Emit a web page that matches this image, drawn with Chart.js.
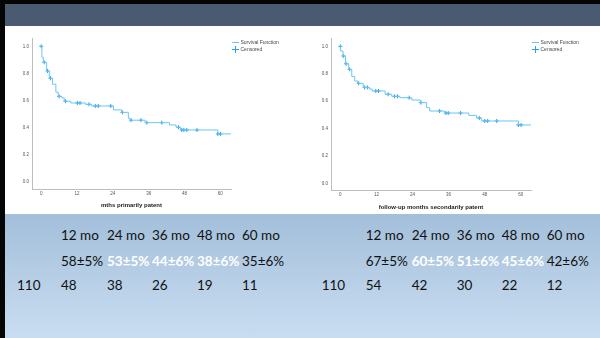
<!DOCTYPE html>
<html lang="en">
<head>
<meta charset="UTF-8">
<title>Patency</title>
<script src="https://cdn.jsdelivr.net/npm/chart.js@4"></script>
<style>
  html, body { margin: 0; padding: 0; }
  body { width: 600px; height: 338px; overflow: hidden; position: relative; background: #fff; font-family: Lato, "Open Sans", sans-serif; }
  .frame-top { position: absolute; left: 0; top: 0; width: 600px; height: 4px; background: #050505; }
  .frame-left { position: absolute; left: 0; top: 0; width: 5px; height: 338px; background: #050505; }
  .header { position: absolute; left: 5px; top: 4px; width: 595px; height: 22px; background: #4a5a71; }
  .bottom { position: absolute; left: 5px; top: 214px; width: 595px; height: 124px; background: linear-gradient(#a3bfda, #c9ddf1); }
  canvas { position: absolute; }
  .cell { position: absolute; font-size: 13.5px; line-height: 13.5px; color: #111; white-space: nowrap; }
  .cell.hi { color: #fff; font-weight: bold; }
</style>
</head>
<body>
<div class="frame-top"></div>
<div class="frame-left"></div>
<div class="header"></div>
<div class="bottom"></div>
<canvas id="primary" width="263" height="185" style="left:20px;top:30px;width:263px;height:185px"></canvas>
<canvas id="secondary" width="273" height="185" style="left:310px;top:30px;width:273px;height:185px"></canvas>
<div id="tables"></div>
<script>
const xTicks = [0, 12, 24, 36, 48, 60]
const yTicks = [0, 0.2, 0.4, 0.6, 0.8, 1.0]

// primary patency (Kaplan-Meier steps + censored marks)
const primTime = [0, 0.2, 0.7, 1.8, 2.7, 3.8, 4.9, 5.7, 6.9, 7.7, 9.9, 14.8, 16.9, 24.2, 27.0, 29.2, 29.8, 34.8, 43.0, 45.2, 46.7, 59.2, 63.6]
const primSurv = [1.0, 0.919, 0.882, 0.818, 0.764, 0.72, 0.661, 0.631, 0.62, 0.595, 0.582, 0.572, 0.56, 0.531, 0.513, 0.469, 0.455, 0.437, 0.42, 0.403, 0.383, 0.354, 0.354]
const primCensTime = [0, 1.0, 2.1, 3.1, 6.0, 8.1, 12.1, 13.0, 16.0, 18.1, 19.1, 23.3, 27.2, 30.1, 33.4, 35.4, 40.4, 46.0, 47.1, 47.8, 48.8, 52.2, 59.2, 60.1]
const primCensSurv = [1.0, 0.882, 0.818, 0.764, 0.631, 0.595, 0.582, 0.582, 0.572, 0.56, 0.56, 0.56, 0.513, 0.455, 0.455, 0.437, 0.437, 0.403, 0.383, 0.383, 0.383, 0.383, 0.354, 0.354]

// secondary patency
const secTime = [0, 0.1, 0.9, 1.7, 2.8, 3.8, 4.8, 5.8, 7.6, 9.6, 10.6, 14.9, 17.1, 19.8, 23.8, 26.7, 28.7, 29.7, 34.6, 42.7, 45.3, 47.0, 59.2, 63.4]
const secSurv = [1.0, 0.966, 0.93, 0.873, 0.832, 0.78, 0.747, 0.73, 0.70, 0.689, 0.674, 0.65, 0.635, 0.625, 0.608, 0.589, 0.552, 0.528, 0.513, 0.496, 0.477, 0.455, 0.426, 0.426]
const secCensTime = [0, 1.0, 1.9, 3.1, 6.1, 8.1, 9.0, 11.8, 12.7, 15.9, 18.0, 19.0, 22.9, 26.8, 33.0, 35.1, 35.9, 40.0, 46.2, 48.0, 49.0, 52.0, 59.2, 60.1]
const secCensSurv = [1.0, 0.93, 0.873, 0.832, 0.73, 0.70, 0.70, 0.674, 0.674, 0.65, 0.635, 0.635, 0.625, 0.589, 0.528, 0.513, 0.513, 0.513, 0.477, 0.455, 0.455, 0.455, 0.426, 0.426]

// tables under the charts
const headers = ["12 mo", "24 mo", "36 mo", "48 mo", "60 mo"]
const primRates = ["58±5%", "53±5%", "44±6%", "38±6%", "35±6%"]
const secRates = ["67±5%", "60±5%", "51±6%", "45±6%", "42±6%"]
const primAtRisk = ["110", "48", "38", "26", "19", "11"]
const secAtRisk = ["110", "54", "42", "30", "22", "12"]
const highlighted = [false, true, true, true, false]

const lineColor = "#6cc6f4"
const censColor = "#2f9fe4"

function makeChart(id, o) {
  const pts = (xs, ys) => xs.map((x, i) => ({ x: x, y: ys[i] }))
  return new Chart(document.getElementById(id), {
    type: "line",
    data: {
      datasets: [
        {
          label: "Survival Function",
          data: pts(o.time, o.surv),
          stepped: true,
          borderColor: lineColor,
          backgroundColor: lineColor,
          borderWidth: 1,
          pointRadius: 0,
          pointStyle: "line",
          fill: false,
        },
        {
          label: "Censored",
          data: pts(o.censTime, o.censSurv),
          showLine: false,
          borderColor: censColor,
          backgroundColor: censColor,
          borderWidth: 1,
          pointStyle: "cross",
          pointRadius: 2,
        },
      ],
    },
    options: {
      responsive: false,
      animation: false,
      layout: { padding: { top: 8, left: 0, right: 0, bottom: 0 } },
      plugins: {
        tooltip: { enabled: false },
        legend: {
          position: "right",
          align: "start",
          maxWidth: o.legendW,
          labels: {
            usePointStyle: true,
            boxWidth: 5,
            boxHeight: 5,
            padding: 2,
            color: "#444",
            font: { family: "Liberation Sans", size: 5 },
          },
        },
      },
      scales: {
        x: {
          type: "linear",
          min: o.xMin,
          max: o.xMax,
          afterBuildTicks: s => { s.ticks = xTicks.map(v => ({ value: v })) },
          afterFit: s => { s.height = o.xHeight },
          grid: { display: false, drawTicks: false },
          border: { display: true, color: "#bdbdbd", width: 1 },
          ticks: { padding: 2, color: "#555", font: { family: "Liberation Sans", size: 4.5 } },
          title: {
            display: true,
            text: o.title,
            color: "#222",
            padding: { top: 0, bottom: o.titlePad },
            font: { family: "Liberation Sans", size: 6, weight: "bold" },
          },
        },
        y: {
          type: "linear",
          min: o.yMin,
          max: o.yMax,
          afterBuildTicks: s => { s.ticks = yTicks.map(v => ({ value: v })) },
          afterFit: s => { s.width = o.yWidth },
          grid: { display: false, drawTicks: false },
          border: { display: true, color: "#bdbdbd", width: 1 },
          ticks: {
            padding: 3,
            color: "#555",
            font: { family: "Liberation Sans", size: 4.5 },
            callback: v => v.toFixed(1),
          },
        },
      },
    },
  })
}

makeChart("primary", {
  time: primTime, surv: primSurv, censTime: primCensTime, censSurv: primCensSurv,
  title: "mths primarily patent",
  xMin: -3.1, xMax: 63.6, yMin: -0.052, yMax: 1.061,
  yWidth: 12, xHeight: 26, titlePad: 6, legendW: 52,
})

makeChart("secondary", {
  time: secTime, surv: secSurv, censTime: secCensTime, censSurv: secCensSurv,
  title: "follow-up months secondarily patent",
  xMin: -3.1, xMax: 63.4, yMin: -0.049, yMax: 1.061,
  yWidth: 21, xHeight: 25, titlePad: 4.4, legendW: 52,
})

// text tables
const colX = [17, 61, 107, 152, 197, 242]
const rowTop = [228.7, 255.3, 279]
const tables = document.getElementById("tables")
function cell(text, x, y, hi) {
  const d = document.createElement("div")
  d.className = hi ? "cell hi" : "cell"
  d.textContent = text
  d.style.left = x + "px"
  d.style.top = y + "px"
  tables.appendChild(d)
}
function table(offset, rates, atRisk) {
  headers.forEach((h, i) => cell(h, colX[i + 1] + offset, rowTop[0], false))
  rates.forEach((r, i) => cell(r, colX[i + 1] + offset, rowTop[1], highlighted[i]))
  atRisk.forEach((n, i) => cell(n, colX[i] + offset, rowTop[2], false))
}
table(0, primRates, primAtRisk)
table(304.7, secRates, secAtRisk)
</script>
</body>
</html>
